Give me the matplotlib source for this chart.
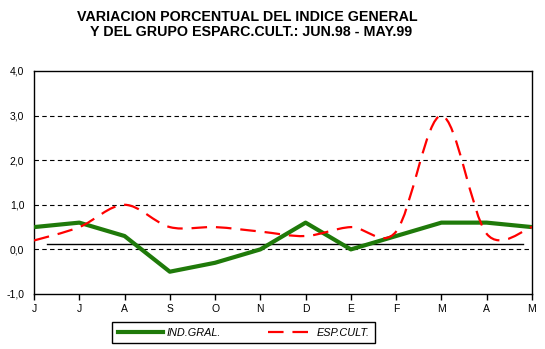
import matplotlib
matplotlib.use("Agg")
import matplotlib.pyplot as plt
from matplotlib.path import Path
from matplotlib.patches import PathPatch
from matplotlib.lines import Line2D
import numpy as np

# datos
meses = ["J", "J", "A", "S", "O", "N", "D", "E", "F", "M", "A", "M"]
ind_gral = [0.5, 0.6, 0.3, -0.5, -0.3, 0.0, 0.6, 0.0, 0.3, 0.6, 0.6, 0.5]
esp_cult = [0.2, 0.5, 1.0, 0.5, 0.5, 0.4, 0.3, 0.5, 0.4, 3.0, 0.35, 0.5]
linea_media = 0.13

titulo1 = "VARIACION PORCENTUAL DEL INDICE GENERAL"
titulo2 = "Y DEL GRUPO ESPARC.CULT.: JUN.98 - MAY.99"

plt.rcParams['font.family'] = ['Liberation Sans', 'DejaVu Sans']

fig = plt.figure(figsize=(5.45, 3.49), dpi=100)
ax = fig.add_axes([0.0624, 0.1576, 0.9136, 0.639])

x = np.arange(len(meses))

# curva suavizada estilo Excel: bezier, tangente (p2-p0)/6 limitada a la mitad del tramo
def smooth_path(xs, ys):
    p = np.column_stack([xs, ys]).astype(float)
    n = len(p)
    verts = [tuple(p[0])]
    codes = [Path.MOVETO]
    for i in range(n - 1):
        p0 = p[i - 1] if i > 0 else p[i]
        p1 = p[i]
        p2 = p[i + 1]
        p3 = p[i + 2] if i + 2 < n else p[i + 1]
        d12 = np.hypot(*(p2 - p1))
        t1 = (p2 - p0) / 6
        t2 = (p3 - p1) / 6
        if np.hypot(*t1) > d12 / 2:
            t1 = t1 * (d12 / 2) / np.hypot(*t1)
        if np.hypot(*t2) > d12 / 2:
            t2 = t2 * (d12 / 2) / np.hypot(*t2)
        verts += [tuple(p1 + t1), tuple(p2 - t2), tuple(p2)]
        codes += [Path.CURVE4] * 3
    return Path(verts, codes)

for v in [0, 1, 2, 3]:
    ax.axhline(v, color="black", lw=0.8, ls=(0, (4, 3)), zorder=1)

ax.axhline(linea_media, xmin=0.026, xmax=0.982, color="black", lw=1.0, zorder=2)

ax.plot(x, ind_gral, color="#1f7a0a", lw=3, solid_capstyle="butt", zorder=3)
patch = PathPatch(smooth_path(x, esp_cult), facecolor="none", edgecolor="#ff0000",
                  lw=1.6, ls=(0, (7, 4)), zorder=4)
ax.add_patch(patch)

ax.set_xlim(0, len(meses) - 1)
ax.set_ylim(-1, 4)
ax.set_xticks(x)
ax.set_xticklabels(meses)
ax.set_yticks([-1, 0, 1, 2, 3, 4])
ax.set_yticklabels(["-1,0", "0,0", "1,0", "2,0", "3,0", "4,0"])
ax.tick_params(axis="x", length=4, width=1, labelsize=7.5, pad=3)
ax.tick_params(axis="y", length=0, labelsize=7.5, pad=7)
for s in ax.spines.values():
    s.set_linewidth(1)

fig.text(0.453, 0.951, titulo1, ha="center", va="center", fontsize=10.3,
         fontweight="bold")
fig.text(0.46, 0.908, titulo2, ha="center", va="center", fontsize=10.3,
         fontweight="bold")

handles = [Line2D([], [], color="#1f7a0a", lw=3),
           Line2D([], [], color="#ff0000", lw=1.6, ls=(0, (7, 4)))]
leg = fig.legend(handles, ["IND.GRAL.", "ESP.CULT."], loc="center",
                 bbox_to_anchor=(0.447, 0.047), ncol=2, fancybox=False,
                 edgecolor="black", framealpha=1, handlelength=4.2,
                 columnspacing=4.3, prop={"size": 7.8, "style": "italic"},
                 borderpad=0.5, borderaxespad=0, handletextpad=0.3)
leg.get_frame().set_linewidth(1)

fig.savefig("out.png", dpi=100)
